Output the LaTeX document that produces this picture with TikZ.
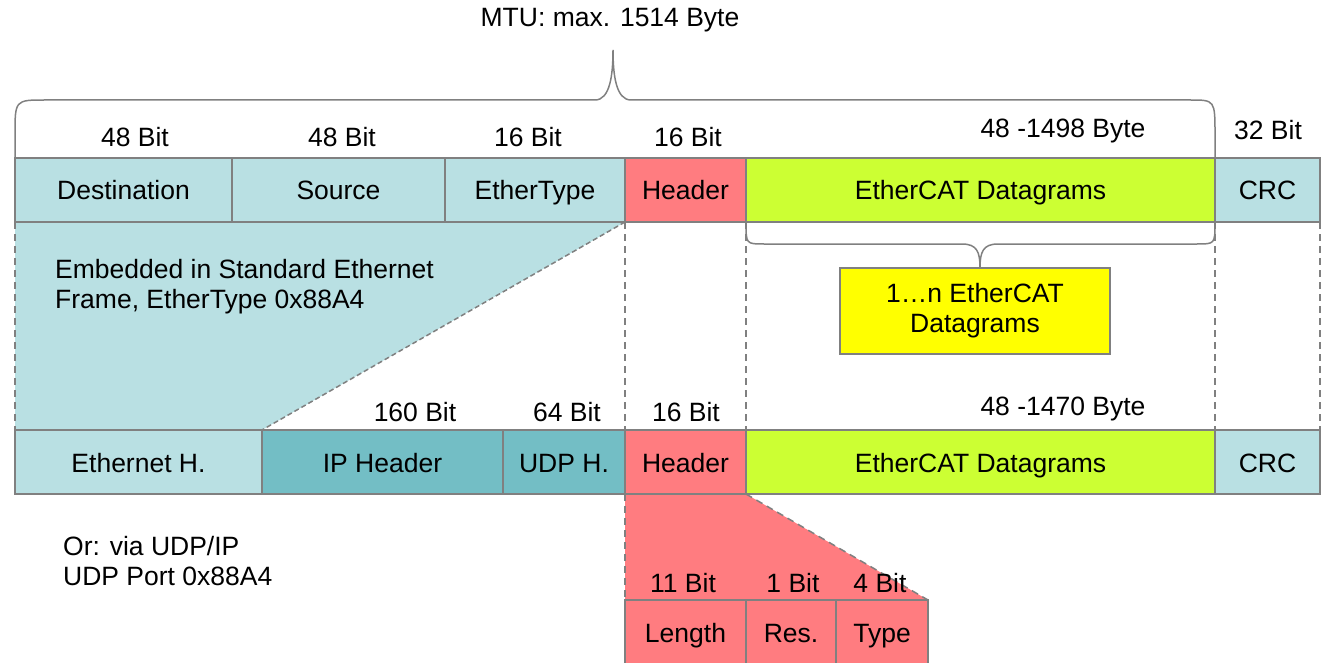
\documentclass[tikz,border=0pt]{standalone}
\usepackage{fontspec}
\setmainfont{Liberation Sans}
\usetikzlibrary{backgrounds}
\definecolor{ethblue}{HTML}{B9E0E3}
\definecolor{ipblue}{HTML}{73BEC5}
\definecolor{ecred}{HTML}{FF7C80}
\definecolor{eclime}{HTML}{CCFF33}
\definecolor{ecyellow}{HTML}{FFFF00}
\definecolor{rim}{HTML}{808080}

\begin{document}
\begin{tikzpicture}[x=1pt,y=-1pt,font=\fontsize{26.5}{30}\selectfont]
        \tikzstyle{field}=[draw=rim,line width=2pt,minimum height=64pt,inner sep=0pt,outer sep=0pt,text height=22pt,text depth=2pt,anchor=north west]
        \tikzstyle{guide}=[draw=rim,line width=1.5pt,dash pattern=on 7pt off 5pt]
        \tikzstyle{slant}=[draw=rim,line width=1.5pt,dash pattern=on 5pt off 3pt]
        \tikzstyle{brace}=[draw=rim,line width=1.5pt]
        \useasboundingbox (0,0) rectangle (1322,663);
        % standard ethernet frame
        \node[field,fill=ethblue,minimum width=217pt] (dest) at (15,158) {Destination};
        \node[field,fill=ethblue,minimum width=213pt] (src) at (dest.north east) {Source};
        \node[field,fill=ethblue,minimum width=180pt] (etype) at (src.north east) {EtherType};
        \node[field,fill=ecred,minimum width=121pt] (hdr) at (etype.north east) {Header};
        \node[field,fill=eclime,minimum width=469pt] (dgram) at (hdr.north east) {EtherCAT Datagrams};
        \node[field,fill=ethblue,minimum width=105pt] (crc) at (dgram.north east) {CRC};
        % udp/ip frame
        \node[field,fill=ethblue,minimum width=247pt] (ethh) at (15,430) {Ethernet H.};
        \node[field,fill=ipblue,minimum width=241pt] (iph) at (ethh.north east) {IP Header};
        \node[field,fill=ipblue,minimum width=122pt] (udph) at (iph.north east) {UDP H.};
        \node[field,fill=ecred,minimum width=121pt] (hdr2) at (udph.north east) {Header};
        \node[field,fill=eclime,minimum width=469pt] (dgram2) at (hdr2.north east) {EtherCAT Datagrams};
        \node[field,fill=ethblue,minimum width=105pt] (crc2) at (dgram2.north east) {CRC};
        % ethercat header
        \node[field,fill=ecred,minimum width=121pt] (len) at (625,600) {Length};
        \node[field,fill=ecred,minimum width=90pt] (res) at (len.north east) {Res.};
        \node[field,fill=ecred,minimum width=92pt] (typ) at (res.north east) {Type};
        \node[draw=rim,line width=2pt,fill=ecyellow,minimum width=270pt,minimum height=86pt,align=center] (many) at (975,311) {1…n EtherCAT\\Datagrams};
        \begin{scope}[on background layer]
            \fill[ethblue] (dest.south west) -- (etype.south east) -- (iph.north west) -- (ethh.north west) -- cycle;
            \fill[ecred] (hdr2.south west) -- (hdr2.south east) -- (typ.north east) -- (len.north west) -- cycle;
            \draw[slant] (etype.south east) -- (iph.north west);
            \draw[guide] (hdr2.south east) -- (typ.north east);
            \draw[guide] (hdr2.south west) -- (len.north west);
            \draw[guide] (dest.south west) -- (ethh.north west);
            \draw[guide] (etype.south east) -- (hdr2.north west);
            \draw[guide] (dgram.south west) -- (dgram2.north west);
            \draw[guide] (dgram.south east) -- (dgram2.north east);
            \draw[guide] (crc.south east) -- (crc2.north east);
        \end{scope}
        % braces
        \draw[brace] (dest.north west) -- (15,135) .. controls (15,100) .. (45,100) -- (595,100) .. controls (610,100) and (613,75) .. (613,50) .. controls (613,75) and (616,100) .. (631,100) -- (1190,100) .. controls (1215,100) .. (1215,135) -- (dgram.north east);
        \draw[brace] (dgram.south west) .. controls (746,244) .. (764,244) -- (962,244) .. controls (977,244) and (980,252) .. (980,268) .. controls (980,252) and (983,244) .. (998,244) -- (1197,244) .. controls (1215,244) .. (dgram.south east);
        % labels
        \node (mtu) at (610,20) {MTU: max. 1514 Byte};
        \node (bdest) at (135,137) {48 Bit};
        \node (bsrc) at (342,137) {48 Bit};
        \node (betype) at (528,137) {16 Bit};
        \node (bhdr) at (688,137) {16 Bit};
        \node (bdgram) at (1063,131) {48 -1498 Byte};
        \node (bcrc) at (1268,130) {32 Bit};
        \node (biph) at (415,412) {160 Bit};
        \node (budph) at (567,412) {64 Bit};
        \node (bhdr2) at (686,412) {16 Bit};
        \node (bdgram2) at (1063,409) {48 -1470 Byte};
        \node (blen) at (683,583) {11 Bit};
        \node (bres) at (793,583) {1 Bit};
        \node (btyp) at (880,583) {4 Bit};
        \node[anchor=west,align=left,inner sep=0pt] (embed) at (55,287) {Embedded in Standard Ethernet\\Frame, EtherType 0x88A4};
        \node[anchor=west,align=left,inner sep=0pt] (viaudp) at (63,561) {Or: via UDP/IP\\UDP Port 0x88A4};
    \end{tikzpicture}
\end{document}
